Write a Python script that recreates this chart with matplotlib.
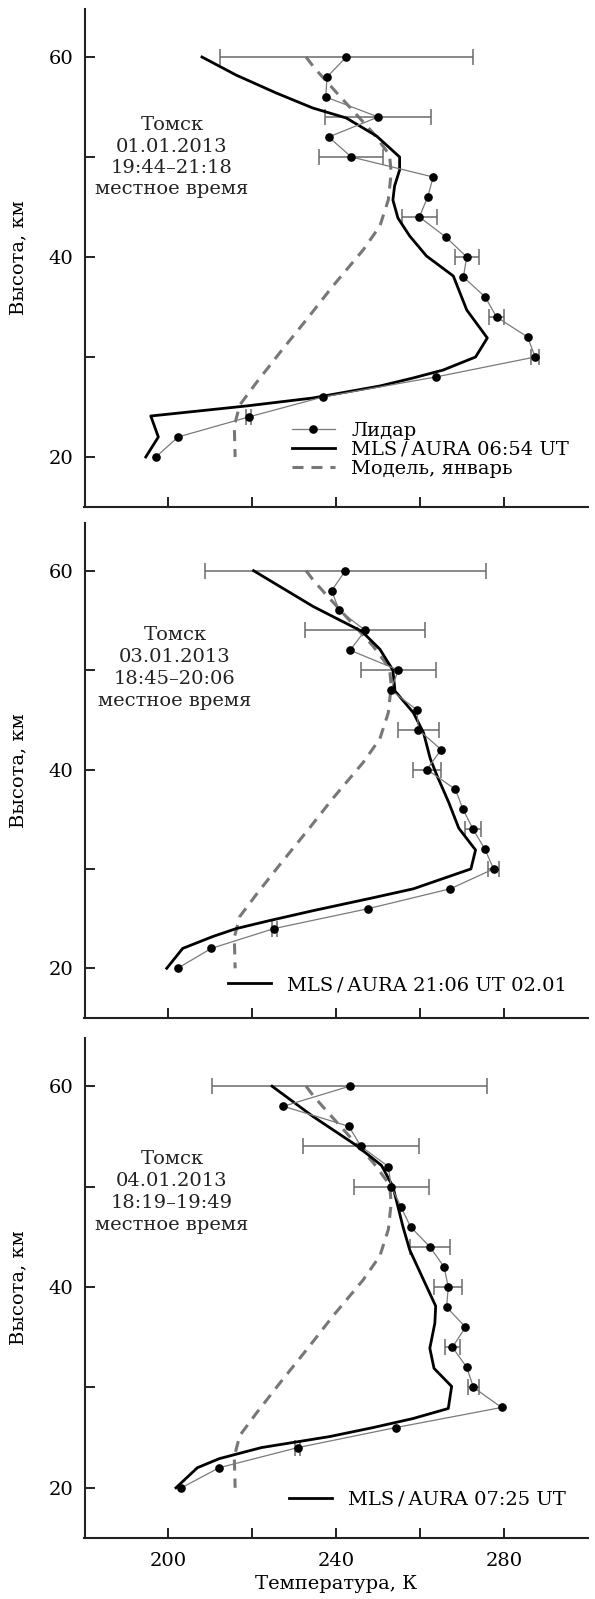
import matplotlib
matplotlib.use('Agg')
import matplotlib.pyplot as plt

plt.rcParams['font.family'] = ['DejaVu Serif']
FS = 14

# ---------------- data ----------------
lidar_h = [60, 58, 56, 54, 52, 50, 48, 46, 44, 42, 40, 38, 36, 34, 32, 30, 28, 26, 24, 22, 20]
lidar_T1 = [242.4, 237.8, 237.5, 250.0, 238.2, 243.6, 263.1, 261.8, 259.8, 266.1, 271.1,
            270.3, 275.5, 278.2, 285.6, 287.4, 263.7, 236.8, 219.1, 202.3, 197.0]
lidar_T2 = [242.2, 238.9, 240.7, 246.9, 243.3, 254.8, 253.0, 259.2, 259.6, 265.0, 261.6,
            268.4, 270.2, 272.6, 275.4, 277.5, 267.2, 247.6, 225.2, 210.2, 202.2]
lidar_T3 = [243.2, 227.4, 243.0, 245.9, 252.4, 253.1, 255.4, 257.7, 262.3, 265.7, 266.7,
            266.3, 270.8, 267.7, 271.1, 272.7, 279.4, 254.2, 230.8, 212.1, 203.1]

err_h = [60, 54, 50, 44, 40, 34, 30, 24]
err_T1 = [30.1, 12.7, 7.6, 4.1, 2.9, 1.8, 1.0, 0.5]
err_T2 = [33.4, 14.3, 9.0, 4.9, 3.3, 1.9, 1.3, 0.6]
err_T3 = [32.8, 13.8, 8.9, 4.8, 3.3, 1.9, 1.3, 0.6]

mls_h1 = [60, 58.2, 56.4, 54.9, 53.9, 52.9, 52.1, 50, 48.7, 47.1, 45.7, 43.9, 42.1, 40.1,
          38.1, 34.7, 33.1, 31.9, 30, 28.7, 27.9, 27.1, 25.9, 25.1, 24.1, 22, 20]
mls_T1 = [208.0, 216.1, 225.7, 234.4, 242.4, 246.4, 249.6, 255.1, 255.1, 253.9, 253.5, 254.7,
          257.5, 261.5, 267.9, 271.1, 273.9, 276.0, 273.2, 265.5, 258.3, 250.4, 234.4, 218.5,
          195.8, 197.6, 194.6]

mls_h2 = [60, 56.4, 53.9, 52.1, 50, 47.9, 45.7, 43.7, 41.1, 39.4, 36.7, 34.1, 31.9, 30,
          28, 27.1, 25.8, 24.8, 24, 23.2, 22, 20]
mls_T2 = [220.3, 234.5, 246.1, 250.4, 253.5, 254.0, 258.4, 260.8, 262.4, 264.0, 266.8, 269.2,
          273.2, 272.1, 258.4, 248.8, 234.5, 224.1, 216.2, 210.6, 203.4, 199.6]

mls_h3 = [60, 57, 54.1, 52.1, 50, 48, 46, 43.7, 40.8, 38.1, 36.4, 33.9, 31.9, 30.1, 27.9,
          26.9, 26, 25.1, 24, 22.9, 22, 20]
mls_T3 = [224.7, 234.4, 244.8, 250.8, 253.5, 254.7, 255.9, 257.5, 260.7, 263.7, 263.5, 262.3,
          263.3, 267.5, 266.7, 258.3, 248.8, 238.4, 222.1, 212.1, 206.9, 201.8]

model_h = [60, 58.9, 56.1, 52.4, 50.2, 48.4, 45.7, 43.1, 40.7, 37.1, 34.1, 30.4, 27.4, 25.2, 23.1, 20]
model_T = [232.8, 234.8, 240.8, 248.8, 252.7, 253.1, 252.4, 250.4, 246.4, 239.2, 233.6, 226.5,
           220.9, 217.0, 215.7, 215.9]

x_ticks = [200, 220, 240, 260, 280]
x_tick_labels = ['200', '', '240', '', '280']
y_ticks = [20, 30, 40, 50, 60]
y_tick_labels = ['20', '', '40', '', '60']

mls_labels = ['MLS\u2009/\u2009AURA 06:54 UT', 'MLS\u2009/\u2009AURA 21:06 UT 02.01',
              'MLS\u2009/\u2009AURA 07:25 UT']
info_texts = [
    ['Томск', '01.01.2013', '19:44\u201321:18', 'местное время'],
    ['Томск', '03.01.2013', '18:45\u201320:06', 'местное время'],
    ['Томск', '04.01.2013', '18:19\u201319:49', 'местное время'],
]
lidar_label = 'Лидар'
model_label = 'Модель, январь'

# ---------------- layout ----------------
W, H = 595, 1599
fig = plt.figure(figsize=(W / 100, H / 100), dpi=100)
left_px, right_px = 84.5, 588
panels_px = [(9, 507), (523, 1018), (1038, 1538)]
info_y = [[125, 146.5, 168, 189.5], [635, 657, 679, 701], [1159, 1181, 1203, 1225]]
info_x_px = [172, 175, 172]
legend_pos_px = [(292, 450), (228, 985), (289, 1500)]

LIDAR_C = '#7a7a7a'
MODEL_C = '#777777'

lidars = [lidar_T1, lidar_T2, lidar_T3]
errs = [err_T1, err_T2, err_T3]
mlss = [(mls_h1, mls_T1), (mls_h2, mls_T2), (mls_h3, mls_T3)]

for i in range(3):
    top, bot = panels_px[i]
    ax = fig.add_axes([left_px / W, 1 - bot / H, (right_px - left_px) / W, (bot - top) / H])
    ax.set_xlim(180, 300)
    ax.set_ylim(15, 64.8)
    hpx = bot - top
    wpx = right_px - left_px

    # model
    lm, = ax.plot(model_T, model_h, color=MODEL_C, lw=2.2, linestyle=(0, (3.6, 2.6)),
                  zorder=2, label=model_label)
    # lidar error bars
    T = lidars[i]
    eT = [T[lidar_h.index(h)] for h in err_h]
    ax.errorbar(eT, err_h, xerr=errs[i], fmt='none', ecolor='#6a6a6a', elinewidth=1.1,
                capsize=5.5, capthick=1.1, zorder=3)
    # MLS
    mh, mT = mlss[i]
    lmls, = ax.plot(mT, mh, color='black', lw=2.0, zorder=4, label=mls_labels[i])
    # lidar
    ll, = ax.plot(T, lidar_h, color=LIDAR_C, lw=0.9, marker='o', ms=5.2, mfc='black',
                  mec='black', zorder=5, label=lidar_label)

    ax.spines['top'].set_visible(False)
    ax.spines['right'].set_visible(False)
    for s in ('left', 'bottom'):
        ax.spines[s].set_linewidth(1.5)
        ax.spines[s].set_color('#222222')

    ax.set_xticks(x_ticks)
    ax.set_yticks(y_ticks)
    ax.set_yticklabels(y_tick_labels)
    if i == 2:
        ax.set_xticklabels(x_tick_labels)
    else:
        ax.set_xticklabels([''] * len(x_ticks))
    ax.tick_params(axis='both', direction='in', length=7, width=1.4, labelsize=FS,
                   color='#222222')
    ax.tick_params(axis='y', pad=8)
    ax.tick_params(axis='x', pad=10)

    ax.set_ylabel('Высота, км', fontsize=FS)
    ax.yaxis.set_label_coords((27 - left_px) / wpx, 0.5)

    for line_text, ypx in zip(info_texts[i], info_y[i]):
        ax.text((info_x_px[i] - left_px) / wpx, (bot - ypx) / hpx, line_text,
                transform=ax.transAxes, ha='center', va='center', fontsize=FS, color='#222222')

    lx, ly = legend_pos_px[i]
    if i == 0:
        handles = [ll, lmls, lm]
    else:
        handles = [lmls]
    leg = ax.legend(handles=handles, loc='center left',
                    bbox_to_anchor=((lx - left_px) / wpx, (bot - ly) / hpx),
                    frameon=False, fontsize=FS, borderpad=0, borderaxespad=0,
                    handlelength=2.2, handletextpad=0.85, labelspacing=0.05,
                    numpoints=1)

    if i == 2:
        ax.set_xlabel('Температура, К', fontsize=FS)
        ax.xaxis.set_label_coords(0.5, (bot - 1575) / hpx)

fig.savefig('out.png', dpi=100)
